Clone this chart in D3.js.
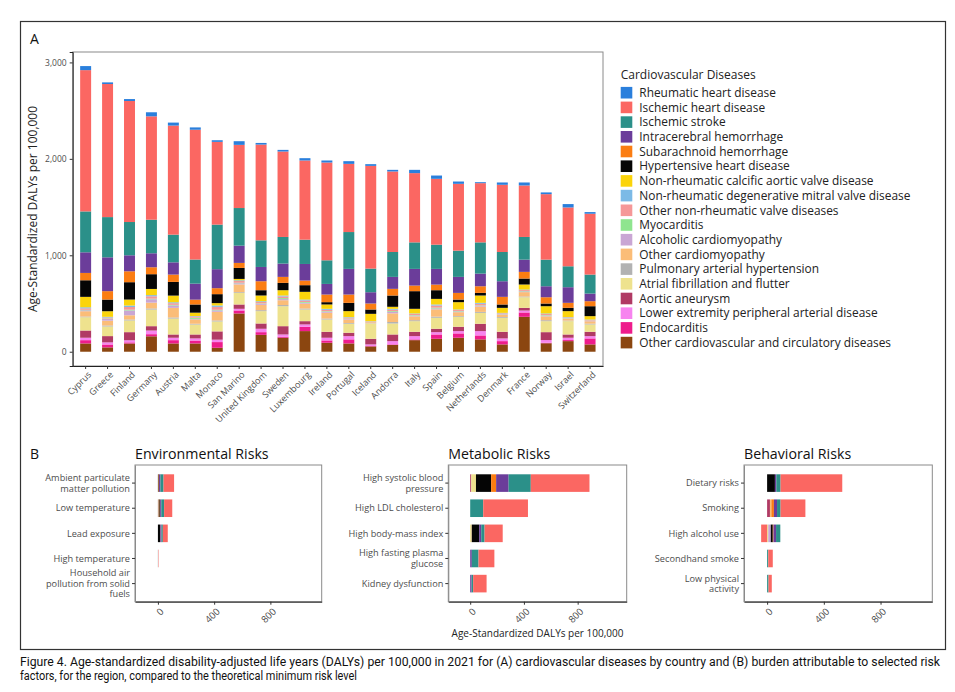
<!DOCTYPE html>
<html>
<head>
<meta charset="utf-8">
<script src="https://cdn.jsdelivr.net/npm/d3@7"></script>
<style>
  body { margin: 0; background: #fff; }
  svg { font-family: 'Open Sans', 'DejaVu Sans', sans-serif; }
</style>
</head>
<body>
<div id="chart"></div>
<script>
// ---- data ----
const countries = ['Cyprus', 'Greece', 'Finland', 'Germany', 'Austria', 'Malta', 'Monaco', 'San Marino',
  'United Kingdom', 'Sweden', 'Luxembourg', 'Ireland', 'Portugal', 'Iceland', 'Andorra', 'Italy',
  'Spain', 'Belgium', 'Netherlands', 'Denmark', 'France', 'Norway', 'Israel', 'Switzerland'];

const diseases = ['Rheumatic heart disease', 'Ischemic heart disease', 'Ischemic stroke',
  'Intracerebral hemorrhage', 'Subarachnoid hemorrhage', 'Hypertensive heart disease',
  'Non-rheumatic calcific aortic valve disease', 'Non-rheumatic degenerative mitral valve disease',
  'Other non-rheumatic valve diseases', 'Myocarditis', 'Alcoholic cardiomyopathy', 'Other cardiomyopathy',
  'Pulmonary arterial hypertension', 'Atrial fibrillation and flutter', 'Aortic aneurysm',
  'Lower extremity peripheral arterial disease', 'Endocarditis', 'Other cardiovascular and circulatory diseases'];

const diseaseColors = ['#2a7fdc', '#fb6762', '#2b9089', '#6b3d9a', '#fb7d12', '#050505',
  '#fbd40b', '#7cbae6', '#f59898', '#8fe58f', '#c9a6d4', '#fbbd78',
  '#b2b2b2', '#eee28e', '#b03a64', '#f784ef', '#ee1c8c', '#8b4610'];

// DALYs per country, one value per disease in legend order
const countryValues = [
  [42, 1465, 424, 214, 76, 172, 108, 11, 15, 5, 10, 55, 7, 138, 75, 25, 34, 86],   // Cyprus
  [17, 1380, 417, 351, 87, 121, 58, 7, 10, 5, 18, 50, 10, 100, 65, 22, 30, 45],     // Greece
  [20, 1255, 345, 166, 113, 180, 62, 15, 28, 8, 50, 44, 10, 121, 84, 22, 12, 85],   // Finland
  [42, 1072, 348, 145, 72, 153, 64, 12, 25, 6, 35, 60, 12, 172, 45, 38, 22, 160],   // Germany
  [31, 1131, 287, 127, 76, 142, 69, 10, 17, 6, 25, 100, 11, 165, 34, 25, 34, 86],   // Austria
  [24, 1346, 250, 166, 50, 85, 35, 5, 12, 12, 6, 45, 8, 103, 41, 22, 30, 86],       // Malta
  [17, 858, 462, 197, 62, 93, 24, 15, 30, 6, 15, 90, 10, 103, 86, 25, 59, 41],      // Monaco
  [38, 655, 390, 179, 52, 114, 14, 8, 18, 5, 12, 80, 8, 120, 45, 17, 31, 397],      // San Marino
  [17, 993, 276, 148, 93, 55, 59, 8, 15, 5, 10, 55, 10, 128, 55, 35, 28, 175],      // United Kingdom
  [17, 886, 276, 138, 62, 76, 55, 10, 17, 10, 12, 50, 12, 207, 86, 24, 10, 145],    // Sweden
  [24, 821, 252, 172, 48, 69, 80, 10, 15, 8, 10, 50, 10, 121, 34, 24, 45, 214],     // Luxembourg
  [21, 1014, 245, 110, 79, 24, 45, 10, 15, 6, 10, 60, 10, 127, 62, 28, 24, 93],     // Ireland
  [28, 707, 382, 266, 86, 86, 62, 5, 10, 5, 6, 35, 8, 93, 35, 34, 42, 86],          // Portugal
  [18, 1065, 245, 117, 62, 45, 76, 2, 4, 2, 3, 10, 3, 159, 58, 17, 4, 55],          // Iceland
  [17, 835, 258, 124, 69, 117, 21, 9, 15, 8, 15, 90, 15, 114, 69, 34, 6, 70],       // Andorra
  [34, 718, 275, 173, 58, 183, 48, 5, 12, 5, 8, 40, 10, 110, 45, 34, 8, 120],       // Italy
  [34, 683, 251, 163, 58, 90, 58, 11, 22, 8, 10, 75, 12, 114, 35, 24, 45, 134],     // Spain
  [24, 693, 272, 166, 69, 27, 76, 5, 10, 5, 8, 40, 8, 103, 45, 24, 45, 145],        // Belgium
  [10, 614, 324, 131, 69, 27, 76, 10, 16, 5, 8, 55, 10, 113, 76, 45, 41, 128],      // Netherlands
  [24, 697, 303, 162, 79, 35, 52, 4, 6, 3, 5, 25, 8, 145, 69, 28, 34, 76],          // Denmark
  [31, 534, 235, 127, 69, 62, 52, 5, 9, 5, 8, 45, 8, 110, 28, 20, 45, 362],         // France
  [18, 679, 276, 114, 65, 28, 75, 6, 11, 5, 8, 40, 10, 114, 82, 28, 5, 88],         // Norway
  [35, 610, 217, 162, 52, 34, 62, 4, 6, 3, 3, 20, 6, 138, 34, 24, 11, 110],         // Israel
  [17, 631, 197, 79, 52, 103, 35, 4, 6, 3, 5, 25, 8, 76, 45, 24, 62, 76]            // Switzerland
];

const yTicks = [0, 1000, 2000, 3000];
const riskTicks = [0, 400, 800];

// risk factors (label lines) and attributable DALYs by disease, legend order
const envRisks = [['Ambient particulate', 'matter pollution'], ['Low temperature'], ['Lead exposure'],
  ['High temperature'], ['Household air', 'pollution from solid', 'fuels']];
const envValues = [
  [0, 75, 22, 10, 3, 5, 0, 0, 0, 0, 0, 0, 0, 0, 0, 0, 0, 0],
  [0, 58, 20, 8, 3, 6, 0, 0, 0, 0, 0, 0, 0, 2, 2, 0, 0, 3],
  [0, 35, 10, 8, 2, 15, 0, 0, 0, 0, 0, 0, 0, 0, 0, 0, 0, 0],
  [0, 3, 1, 0, 0, 0, 0, 0, 0, 0, 0, 0, 0, 0, 0, 0, 0, 0],
  [0, 0, 0, 0, 0, 0, 0, 0, 0, 0, 0, 0, 0, 0, 0, 0, 0, 0]
];

const metRisks = [['High systolic blood', 'pressure'], ['High LDL cholesterol'], ['High body-mass index'],
  ['High fasting plasma', 'glucose'], ['Kidney dysfunction']];
const metValues = [
  [0, 437, 165, 93, 37, 113, 0, 0, 0, 0, 0, 0, 0, 35, 8, 0, 0, 0],
  [0, 333, 97, 0, 0, 0, 0, 0, 0, 0, 0, 0, 0, 0, 0, 0, 0, 0],
  [0, 135, 25, 15, 0, 55, 0, 0, 0, 0, 0, 2, 0, 10, 0, 0, 0, 0],
  [0, 118, 50, 12, 0, 0, 0, 0, 0, 0, 0, 0, 0, 0, 0, 0, 0, 0],
  [0, 100, 12, 10, 0, 0, 0, 0, 0, 0, 0, 0, 0, 0, 0, 0, 0, 0]
];

const behRisks = [['Dietary risks'], ['Smoking'], ['High alcohol use'], ['Secondhand smoke'],
  ['Low physical', 'activity']];
const behValues = [
  [0, 435, 30, 10, 0, 55, 0, 0, 0, 0, 0, 0, 0, 0, 0, 0, 0, 0],
  [0, 175, 25, 22, 18, 0, 0, 0, 0, 0, 0, 10, 0, 0, 20, 0, 0, 0],
  [0, -42, 30, 18, 5, 14, 0, 0, 0, 0, 18, 0, 0, 8, 0, 0, 0, 0],
  [0, 32, 8, 0, 0, 0, 0, 0, 0, 0, 0, 0, 0, 0, 0, 0, 0, 0],
  [0, 23, 10, 0, 0, 0, 0, 0, 0, 0, 0, 0, 0, 0, 0, 0, 0, 0]
];

const captionLines = [
  'Figure 4. Age-standardized disability-adjusted life years (DALYs) per 100,000 in 2021 for (A) cardiovascular diseases by country and (B) burden attributable to selected risk',
  'factors, for the region, compared to the theoretical minimum risk level'
];

// ---- setup ----
const W = 955, H = 692;
const textCol = '#4d4d4d';
const color = d3.scaleOrdinal().domain(diseases).range(diseaseColors);
const stackKeys = diseases.slice().reverse(); // bottom of stack first

const svg = d3.select('#chart').append('svg')
  .attr('width', W)
  .attr('height', H);

svg.append('rect').attr('width', W).attr('height', H).attr('fill', '#fff');

// outer frame
svg.append('rect')
  .attr('x', 20.5).attr('y', 21.5)
  .attr('width', 925).attr('height', 628)
  .attr('fill', 'none')
  .attr('stroke', '#333')
  .attr('stroke-width', 1.2);

// ---- panel A ----
const A = { left: 72.7, right: 603, top: 52, bottom: 366 };

const x = d3.scaleBand()
  .domain(countries)
  .range([A.left, A.right])
  .paddingInner(0.5)
  .paddingOuter(0.34);

const y = d3.scaleLinear()
  .domain([-148, 3108])
  .range([A.bottom, A.top]);

const table = countries.map((c, i) => {
  let row = { country: c };
  diseases.forEach((d, j) => { row[d] = countryValues[i][j]; });
  return row;
});

const series = d3.stack().keys(stackKeys)(table);

svg.append('text')
  .attr('x', 30).attr('y', 44)
  .style('font-size', '14px')
  .attr('fill', '#111')
  .text('A');

const gA = svg.append('g');

gA.selectAll('.layer')
  .data(series)
  .enter().append('g')
  .attr('class', 'layer')
  .attr('fill', d => color(d.key))
  .selectAll('rect')
  .data(d => d)
  .enter().append('rect')
  .attr('x', d => x(d.data.country))
  .attr('y', d => y(d[1]))
  .attr('width', x.bandwidth())
  .attr('height', d => Math.max(0, y(d[0]) - y(d[1])));

// panel border
gA.append('rect')
  .attr('x', A.left).attr('y', A.top)
  .attr('width', A.right - A.left).attr('height', A.bottom - A.top)
  .attr('fill', 'none')
  .attr('stroke', '#8a8a8a')
  .attr('stroke-width', 1);

// y axis
const yAxis = gA.append('g')
  .attr('transform', `translate(${A.left},0)`)
  .call(d3.axisLeft(y).tickValues(yTicks).tickFormat(d3.format(',')).tickSize(3).tickPadding(3));
yAxis.select('.domain').attr('stroke', '#222');
yAxis.selectAll('.tick line').attr('stroke', '#333');
yAxis.selectAll('text').attr('fill', textCol).style('font-size', '8.5px').style('font-family', "'Open Sans', sans-serif");

// x axis
const xAxis = gA.append('g')
  .attr('transform', `translate(0,${A.bottom})`)
  .call(d3.axisBottom(x).tickSize(3).tickSizeOuter(0).tickFormat(''));
xAxis.select('.domain').attr('stroke', '#222');
xAxis.selectAll('.tick line').attr('stroke', '#333');

gA.selectAll('.country-label')
  .data(countries)
  .enter().append('text')
  .attr('class', 'country-label')
  .attr('transform', d => `translate(${x(d) + x.bandwidth() / 2 + 4},${A.bottom + 7}) rotate(-45)`)
  .attr('text-anchor', 'end')
  .attr('dy', '0.35em')
  .attr('fill', textCol)
  .style('font-size', '9px')
  .text(d => d);

svg.append('text')
  .attr('transform', `translate(37,${(A.top + A.bottom) / 2}) rotate(-90)`)
  .attr('text-anchor', 'middle')
  .attr('fill', '#222')
  .style('font-size', '12px')
  .text('Age-Standardized DALYs per 100,000');

// legend
const legend = svg.append('g').attr('transform', 'translate(620.7,0)');
legend.append('text')
  .attr('x', 0).attr('y', 79)
  .attr('fill', '#222')
  .style('font-size', '12px')
  .text('Cardiovascular Diseases');

const items = legend.selectAll('.item')
  .data(diseases)
  .enter().append('g')
  .attr('class', 'item')
  .attr('transform', (d, i) => `translate(0,${92.7 + i * 14.7})`);

items.append('rect')
  .attr('x', 0).attr('y', -5.8)
  .attr('width', 11.6).attr('height', 11.6)
  .attr('fill', d => color(d));

items.append('text')
  .attr('x', 18.6)
  .attr('dy', '0.36em')
  .attr('fill', '#222')
  .style('font-size', '11.9px')
  .text(d => d);

// ---- panel B ----
svg.append('text')
  .attr('x', 30).attr('y', 459)
  .style('font-size', '14px')
  .attr('fill', '#111')
  .text('B');

const riskTop = 465, riskBottom = 601.7;
const riskDomain = [-163, 1165];

const drawRiskPanel = (title, risks, values, left, right) => {
  let g = svg.append('g');
  let keysLabel = risks.map(r => r.join(' '));

  let xr = d3.scaleLinear().domain(riskDomain).range([left, right]);
  let yr = d3.scaleBand()
    .domain(keysLabel)
    .range([riskTop, riskBottom])
    .paddingInner(0.3)
    .paddingOuter(0.37);

  let rows = keysLabel.map((k, i) => {
    let row = { risk: k };
    diseases.forEach((d, j) => { row[d] = values[i][j]; });
    return row;
  });

  let layers = d3.stack()
    .keys(stackKeys)
    .offset(d3.stackOffsetDiverging)(rows);

  g.selectAll('.layer')
    .data(layers)
    .enter().append('g')
    .attr('fill', d => color(d.key))
    .selectAll('rect')
    .data(d => d)
    .enter().append('rect')
    .attr('x', d => xr(Math.min(d[0], d[1])))
    .attr('y', d => yr(d.data.risk))
    .attr('width', d => Math.abs(xr(d[1]) - xr(d[0])))
    .attr('height', yr.bandwidth());

  g.append('rect')
    .attr('x', left).attr('y', riskTop)
    .attr('width', right - left).attr('height', riskBottom - riskTop)
    .attr('fill', 'none')
    .attr('stroke', '#8a8a8a');

  let ax = g.append('g')
    .attr('transform', `translate(0,${riskBottom})`)
    .call(d3.axisBottom(xr).tickValues(riskTicks).tickSize(3).tickSizeOuter(0).tickFormat(''));
  ax.select('.domain').attr('stroke', '#222');
  ax.selectAll('.tick line').attr('stroke', '#333');

  g.selectAll('.xlab')
    .data(riskTicks)
    .enter().append('text')
    .attr('transform', d => `translate(${xr(d) + 4},${riskBottom + 8}) rotate(-45)`)
    .attr('text-anchor', 'end')
    .attr('dy', '0.35em')
    .attr('fill', textCol)
    .style('font-size', '9.5px')
    .text(d => d);

  let ay = g.append('g')
    .attr('transform', `translate(${left},0)`)
    .call(d3.axisLeft(yr).tickSize(3).tickSizeOuter(0).tickFormat(''));
  ay.select('.domain').attr('stroke', '#8a8a8a');
  ay.selectAll('.tick line').attr('stroke', '#333');

  let lab = g.selectAll('.ylab')
    .data(risks)
    .enter().append('text')
    .attr('text-anchor', 'end')
    .attr('fill', textCol)
    .style('font-size', '9.2px');

  lab.selectAll('tspan')
    .data((d, i) => d.map((line, j) => ({ line, j, n: d.length, k: keysLabel[i] })))
    .enter().append('tspan')
    .attr('x', left - 5)
    .attr('y', d => yr(d.k) + yr.bandwidth() / 2 + (d.j - (d.n - 1) / 2) * 10.4)
    .attr('dy', '0.35em')
    .text(d => d.line);

  g.append('text')
    .attr('x', left).attr('y', 459)
    .attr('fill', '#111')
    .style('font-size', '14.2px')
    .text(title);

  return xr;
};

drawRiskPanel('Environmental Risks', envRisks, envValues, 135, 321.7);
drawRiskPanel('Metabolic Risks', metRisks, metValues, 448.3, 626.7);
drawRiskPanel('Behavioral Risks', behRisks, behValues, 744, 932.3);

svg.append('text')
  .attr('x', (448.3 + 626.7) / 2).attr('y', 637)
  .attr('text-anchor', 'middle')
  .attr('fill', '#222')
  .style('font-size', '10px')
  .text('Age-Standardized DALYs per 100,000');

// caption
const capLengths = [920, 337];
svg.selectAll('.caption')
  .data(captionLines)
  .enter().append('text')
  .attr('class', 'caption')
  .attr('x', 20)
  .attr('y', (d, i) => 666 + i * 13.5)
  .attr('textLength', (d, i) => capLengths[i])
  .attr('lengthAdjust', 'spacingAndGlyphs')
  .attr('fill', '#111')
  .style('font-family', "'Liberation Sans Narrow', 'Roboto', sans-serif")
  .style('font-size', '12px')
  .text(d => d);
</script>
</body>
</html>
